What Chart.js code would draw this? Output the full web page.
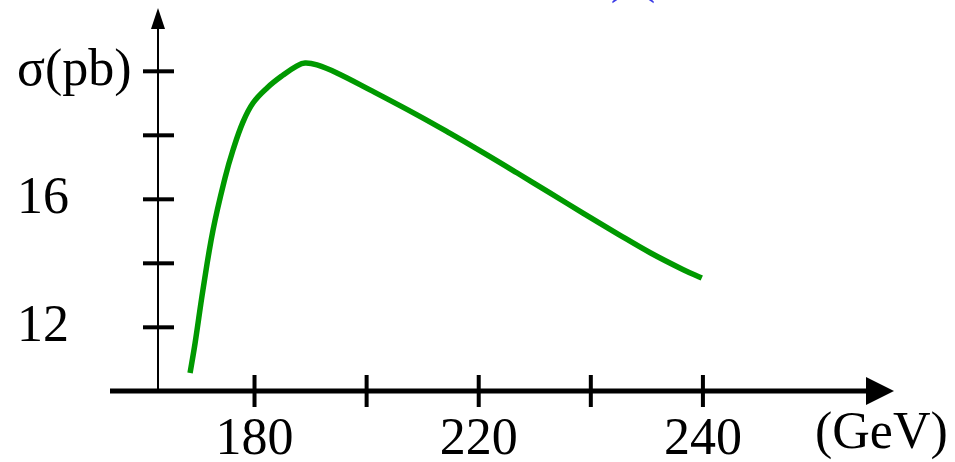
<!DOCTYPE html>
<html><head><meta charset="utf-8">
<script src="https://cdn.jsdelivr.net/npm/chart.js@4.4.1/dist/chart.umd.min.js"></script>
<style>html,body{margin:0;padding:0;background:#fff;} #wrap{width:955px;height:462px;}</style>
</head><body><div id="wrap"><canvas id="c" width="955" height="462"></canvas></div>
<script>
const energyGeV = [168.5,169.4,170.8,172.6,174.74,176.16,177.95,179.73,182.23,185.08,187.58,189.01,191.15,194.7,200.6,209.0,214.9,220.8,226.8,232.7,238.6,244.7,250.6,256.5,259.8];
const sigmaPb = [10.57,11.51,13.17,15.04,16.67,17.54,18.42,19.01,19.48,19.88,20.17,20.26,20.20,19.95,19.42,18.64,18.06,17.46,16.83,16.20,15.57,14.93,14.33,13.80,13.54];
const xTickValues = [180,200,220,240,260];
const xTickLabels = ['180','','220','','240'];
const yTickValues = [12,14,16,18,20];
const yTickLabels = ['12','','16','','σ(pb)'];
const xUnitLabel = '(GeV)';
const titleLeft = 'σ ee→WW)';
const titleRight = '(LEP2 Born calculation)';

const FONT = 'Liberation Serif';
const FS = 52;

const axesPlugin = {
  id: 'arrowAxes',
  afterDraw(chart) {
    const ctx = chart.ctx;
    const xs = chart.scales.x, ys = chart.scales.y;
    const L = chart.chartArea.left, B = chart.chartArea.bottom;
    ctx.save();
    ctx.fillStyle = '#000';
    ctx.fillRect(L - 1, 26, 2, B - 26);
    ctx.beginPath();
    ctx.moveTo(L, 8); ctx.lineTo(L - 7, 29); ctx.lineTo(L + 7, 29); ctx.closePath(); ctx.fill();
    yTickValues.forEach(v => {
      const y = ys.getPixelForValue(v);
      ctx.fillRect(L - 15, y - 2, 31, 4);
    });
    const xy = B + 1;
    ctx.fillRect(110, xy - 2.5, 760, 5);
    ctx.beginPath();
    ctx.moveTo(894, xy); ctx.lineTo(866, xy - 14); ctx.lineTo(866, xy + 14); ctx.closePath(); ctx.fill();
    xTickValues.forEach(v => {
      const x = xs.getPixelForValue(v);
      ctx.fillRect(x - 2, 375, 4, 32);
    });
    ctx.font = FS + 'px "' + FONT + '"';
    ctx.textBaseline = 'middle';
    ctx.textAlign = 'left';
    ctx.fillText(xUnitLabel, 815, 434);
    ctx.fillStyle = '#3b3be6';
    ctx.textBaseline = 'alphabetic';
    ctx.textAlign = 'right';
    ctx.fillText(titleLeft, 628, -8);
    ctx.textAlign = 'left';
    ctx.fillText(titleRight, 638, -8);
    ctx.restore();
  }
};

new Chart(document.getElementById('c'), {
  type: 'line',
  data: {
    datasets: [{
      data: energyGeV.map((e, i) => ({x: e, y: sigmaPb[i]})),
      borderColor: '#009900',
      borderWidth: 5.5,
      pointRadius: 0,
      fill: false,
      tension: 0.4,
      clip: false
    }]
  },
  options: {
    responsive: false,
    animation: false,
    devicePixelRatio: 1,
    layout: {padding: {left: 17, top: 10, right: 60, bottom: 0}},
    plugins: {legend: {display: false}, tooltip: {enabled: false}, title: {display: false}},
    scales: {
      x: {
        type: 'linear',
        min: 162.78, max: 294.27,
        grid: {display: false}, border: {display: false},
        afterBuildTicks: s => { s.ticks = xTickValues.map(v => ({value: v})); },
        afterFit: s => { s.height = 72; s.paddingLeft = 0; s.paddingRight = 0; },
        ticks: {
          autoSkip: false, maxRotation: 0, padding: 11, color: '#000',
          font: {family: FONT, size: FS},
          callback: (v, i) => xTickLabels[i]
        }
      },
      y: {
        type: 'linear',
        min: 10.041, max: 21.916,
        grid: {display: false}, border: {display: false},
        afterBuildTicks: s => { s.ticks = yTickValues.map(v => ({value: v})); },
        afterFit: s => { s.width = 141; s.paddingTop = 0; s.paddingBottom = 0; },
        ticks: {
          autoSkip: false, crossAlign: 'far', color: '#000',
          font: {family: FONT, size: FS},
          callback: (v, i) => yTickLabels[i]
        }
      }
    }
  },
  plugins: [axesPlugin]
});
</script></body></html>
